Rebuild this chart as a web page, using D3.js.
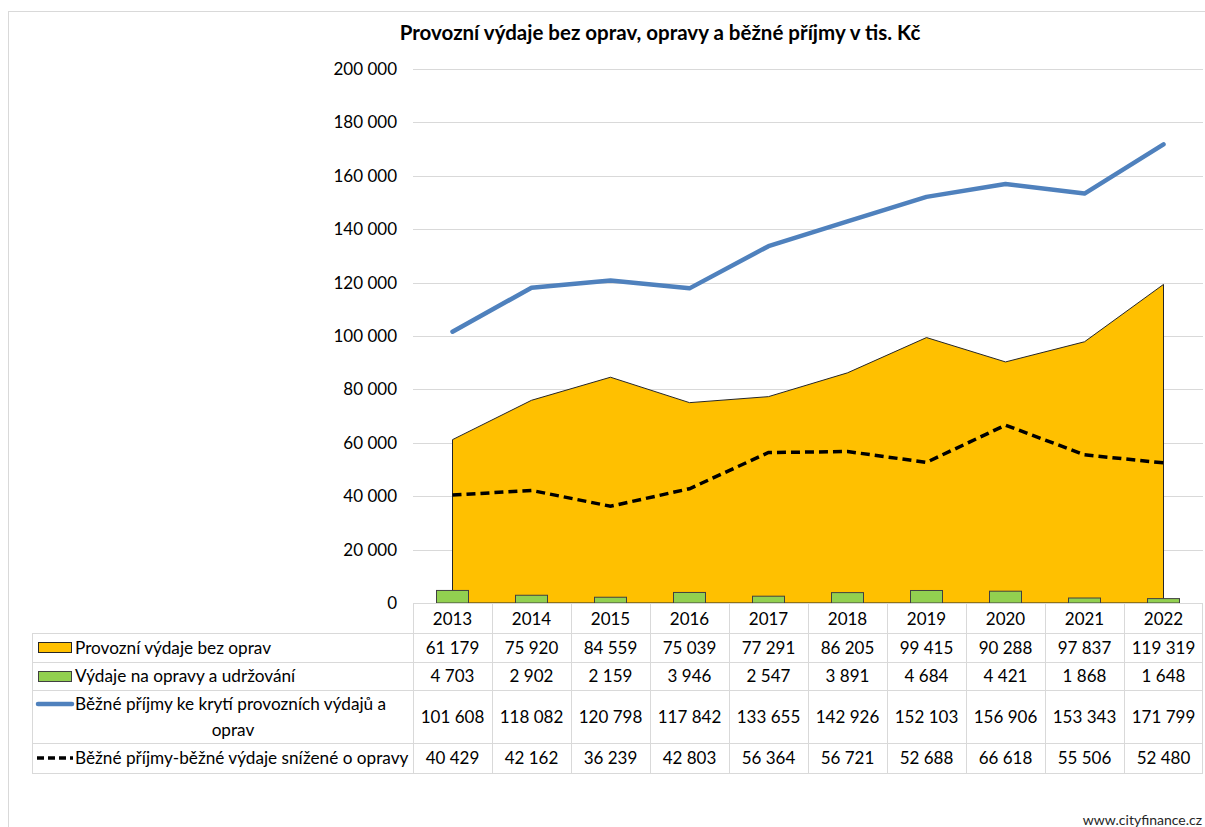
<!DOCTYPE html>
<html><head><meta charset="utf-8">
<script src="https://cdn.jsdelivr.net/npm/d3@7"></script>
<style>body{margin:0;background:#fff;}svg{display:block;font-family:Lato,"Open Sans",sans-serif;}</style>
</head><body><svg id="c" width="1205" height="827"></svg>
<script>
const years = ["2013","2014","2015","2016","2017","2018","2019","2020","2021","2022"];
const provozni = [61179,75920,84559,75039,77291,86205,99415,90288,97837,119319];
const opravy = [4703,2902,2159,3946,2547,3891,4684,4421,1868,1648];
const prijmy = [101608,118082,120798,117842,133655,142926,152103,156906,153343,171799];
const saldo = [40429,42162,36239,42803,56364,56721,52688,66618,55506,52480];
const yTicks = [0,20000,40000,60000,80000,100000,120000,140000,160000,180000,200000];
const seriesNames = ["Provozní výdaje bez oprav","Výdaje na opravy a udržování","Běžné příjmy ke krytí provozních výdajů a oprav","Běžné příjmy-běžné výdaje snížené o opravy"];

const svg = d3.select("#c");
const fmt = v => d3.format(",")(v).replace(/,/g," ");
const x = d3.scaleBand().domain(years).range([413,1203]);
const y = d3.scaleLinear().domain([0,200000]).range([603,69]);
const cx = d => x(d)+x.bandwidth()/2;
const fs = 17;

// frame
svg.append("rect").attr("x",8.5).attr("y",11.5).attr("width",1210).attr("height",830).attr("fill","none").attr("stroke","#d9d9d9");

// title
svg.append("text").attr("x",660).attr("y",40).attr("text-anchor","middle").attr("font-weight","bold").attr("font-size",20.5).attr("fill","#000").text("Provozní výdaje bez oprav, opravy a běžné příjmy v tis. Kč");

// grid
svg.append("g").selectAll("line").data(yTicks.filter(t=>t>0)).join("line")
 .attr("x1",413).attr("x2",1203).attr("y1",d=>Math.round(y(d))+0.5).attr("y2",d=>Math.round(y(d))+0.5).attr("stroke","#d9d9d9");
svg.append("g").selectAll("text").data(yTicks).join("text")
 .attr("x",397).attr("y",d=>y(d)+6).attr("text-anchor","end").attr("font-size",fs).attr("fill","#000").text(fmt);

// area
const area = d3.area().x((d,i)=>cx(years[i])).y0(y(0)).y1(d=>y(d));
svg.append("path").datum(provozni).attr("d",area).attr("fill","#FFC000").attr("stroke","#262626").attr("stroke-width",1);

// bars
const bw = 32;
svg.append("g").selectAll("rect").data(opravy).join("rect")
 .attr("x",(d,i)=>cx(years[i])-bw/2).attr("y",d=>y(d)).attr("width",bw).attr("height",d=>y(0)-y(d))
 .attr("fill","#92D050").attr("stroke","#404040").attr("stroke-width",1);

// lines
const line = d3.line().x((d,i)=>cx(years[i])).y(d=>y(d));
svg.append("path").datum(saldo).attr("d",line).attr("fill","none").attr("stroke","#000").attr("stroke-width",3.5).attr("stroke-dasharray","9,5");
svg.append("path").datum(prijmy).attr("d",line).attr("fill","none").attr("stroke","#4F81BD").attr("stroke-width",4.5).attr("stroke-linecap","round").attr("stroke-linejoin","round");

// table
const tb = svg.append("g");
const rowY = [603,633,662,690,743,773];
const gc = "#d9d9d9";
tb.append("line").attr("x1",413).attr("x2",1203).attr("y1",603.5).attr("y2",603.5).attr("stroke",gc);
rowY.slice(1).forEach(ry=>tb.append("line").attr("x1",32).attr("x2",1203).attr("y1",ry+0.5).attr("y2",ry+0.5).attr("stroke",gc));
tb.append("line").attr("x1",32.5).attr("x2",32.5).attr("y1",633).attr("y2",773).attr("stroke",gc);
years.forEach(yr=>tb.append("line").attr("x1",x(yr)+0.5).attr("x2",x(yr)+0.5).attr("y1",603).attr("y2",773).attr("stroke",gc));
tb.append("line").attr("x1",1202.5).attr("x2",1202.5).attr("y1",603).attr("y2",773).attr("stroke",gc);
tb.selectAll("text.h").data(years).join("text").attr("class","h").attr("x",d=>cx(d)).attr("y",625).attr("text-anchor","middle").attr("font-size",fs).text(d=>d);
const rows = [provozni,opravy,prijmy,saldo];
rows.forEach((r,ri)=>{
  const my = (rowY[ri+1]+rowY[ri+2])/2 + 6;
  tb.selectAll("text.r"+ri).data(r).join("text").attr("class","r"+ri).attr("x",(d,i)=>cx(years[i])).attr("y",my).attr("text-anchor","middle").attr("font-size",fs).text(fmt);
});
const lx = 75;
const lfs = 17.2;
tb.append("rect").attr("x",38.5).attr("y",642.5).attr("width",33).attr("height",10).attr("fill","#FFC000").attr("stroke","#262626");
tb.append("text").attr("x",lx).attr("y",654).attr("font-size",lfs).text(seriesNames[0]);
tb.append("rect").attr("x",38.5).attr("y",671.5).attr("width",33).attr("height",10).attr("fill","#92D050").attr("stroke","#404040");
tb.append("text").attr("x",lx).attr("y",682).attr("font-size",lfs).text(seriesNames[1]);
tb.append("line").attr("x1",38).attr("x2",72).attr("y1",704).attr("y2",704).attr("stroke","#4F81BD").attr("stroke-width",4.5).attr("stroke-linecap","round");
tb.append("text").attr("x",lx).attr("y",710).attr("font-size",lfs).text("Běžné příjmy ke krytí provozních výdajů a");
tb.append("text").attr("x",233).attr("y",736).attr("text-anchor","middle").attr("font-size",lfs).text("oprav");
tb.append("line").attr("x1",37).attr("x2",73).attr("y1",758).attr("y2",758).attr("stroke","#000").attr("stroke-width",3.5).attr("stroke-dasharray","7,4");
tb.append("text").attr("x",lx).attr("y",764).attr("font-size",lfs).text(seriesNames[3]);

svg.append("text").attr("x",1202).attr("y",825).attr("text-anchor","end").attr("font-size",14).attr("fill","#262626").text("www.cityfinance.cz");
</script></body></html>
